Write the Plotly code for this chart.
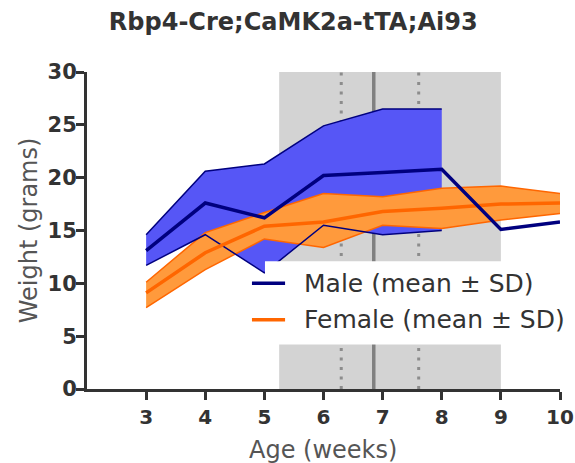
import plotly.graph_objects as go

weeks = [3, 4, 5, 6, 7, 8, 9, 10]
male_mean = [13.1, 17.6, 16.2, 20.2, 20.5, 20.8, 15.1, 15.8]
sd_weeks_male = [3, 4, 5, 6, 7, 8]
male_upper = [14.6, 20.6, 21.3, 24.9, 26.5, 26.5]
male_lower = [11.7, 14.6, 11.0, 15.5, 14.6, 15.0]
female_mean = [9.1, 12.9, 15.4, 15.8, 16.8, 17.1, 17.5, 17.6]
female_upper = [10.1, 14.8, 16.7, 18.5, 18.2, 19.0, 19.2, 18.5]
female_lower = [7.7, 11.3, 14.2, 13.4, 15.5, 15.2, 16.0, 16.6]
shade_range = [5.25, 9.0]
solid_line_x = 6.85
dotted_lines_x = [6.3, 7.61]
x_ticks = [3, 4, 5, 6, 7, 8, 9, 10]
y_ticks = [0, 5, 10, 15, 20, 25, 30]
legend_labels = ["Male (mean ± SD)", "Female (mean ± SD)"]

NAVY = "#00007f"
MFILL = "#5656f6"
ORANGE = "#ff6600"
FFILL = "#ff9a3c"
FONT = "DejaVu Sans"

fig = go.Figure()

fig.add_trace(go.Scatter(x=sd_weeks_male + sd_weeks_male[::-1], y=male_upper + male_lower[::-1],
                         fill="toself", fillcolor=MFILL, line=dict(width=0), mode="lines",
                         showlegend=False, hoverinfo="skip"))
fig.add_trace(go.Scatter(x=weeks + weeks[::-1], y=female_upper + female_lower[::-1],
                         fill="toself", fillcolor=FFILL, line=dict(width=0), mode="lines",
                         showlegend=False, hoverinfo="skip"))
fig.add_trace(go.Scatter(x=weeks, y=female_upper, mode="lines", line=dict(color=ORANGE, width=1.5),
                         showlegend=False, hoverinfo="skip"))
fig.add_trace(go.Scatter(x=weeks, y=female_lower, mode="lines", line=dict(color=ORANGE, width=1.5),
                         showlegend=False, hoverinfo="skip"))
fig.add_trace(go.Scatter(x=sd_weeks_male, y=male_upper, mode="lines", line=dict(color=NAVY, width=1.5),
                         showlegend=False, hoverinfo="skip"))
fig.add_trace(go.Scatter(x=sd_weeks_male, y=male_lower, mode="lines", line=dict(color=NAVY, width=1.5),
                         showlegend=False, hoverinfo="skip"))
fig.add_trace(go.Scatter(x=weeks, y=female_mean, mode="lines", line=dict(color=ORANGE, width=3.5),
                         name=legend_labels[1], showlegend=False))
fig.add_trace(go.Scatter(x=weeks, y=male_mean, mode="lines", line=dict(color=NAVY, width=3.5),
                         name=legend_labels[0], showlegend=False))

shapes = [dict(type="rect", xref="x", yref="y", x0=shade_range[0], x1=shade_range[1], y0=0, y1=30,
               fillcolor="#d3d3d3", line=dict(width=0), layer="below")]
for xv in dotted_lines_x:
    shapes.append(dict(type="line", xref="x", yref="y", x0=xv, x1=xv, y0=0, y1=30,
                       line=dict(color="#8c8c8c", width=3, dash="3px,6.5px"), layer="below"))
shapes.append(dict(type="line", xref="x", yref="y", x0=solid_line_x, x1=solid_line_x, y0=0, y1=30,
                   line=dict(color="#808080", width=3.5), layer="below"))

# legend box (white background) and entries, placed in data coordinates
shapes.append(dict(type="rect", xref="x", yref="y", x0=5.01, x1=9.6, y0=4.2, y1=12.1,
                   fillcolor="white", line=dict(width=0), layer="above"))
legend_y = [10.0, 6.55]
legend_colors = [NAVY, ORANGE]
annotations = []
for ly, lc, lt in zip(legend_y, legend_colors, legend_labels):
    shapes.append(dict(type="line", xref="x", yref="y", x0=4.79, x1=5.35, y0=ly, y1=ly,
                       line=dict(color=lc, width=3.5), layer="above"))
    annotations.append(dict(x=5.64, y=ly, xref="x", yref="y", text=lt, showarrow=False,
                            xanchor="left", yanchor="middle",
                            font=dict(size=25, color="#333333", family=FONT)))
# x-axis title
annotations.append(dict(x=0.498, y=-0.193, xref="paper", yref="paper", text="Age (weeks)", showarrow=False,
                        xanchor="center", yanchor="middle",
                        font=dict(size=24, color="#555555", family=FONT)))

fig.update_layout(
    width=575, height=463,
    margin=dict(l=87, r=15, t=72, b=74),
    paper_bgcolor="white", plot_bgcolor="white",
    font=dict(family=FONT, color="#333333"),
    title=dict(text="<b>Rbp4-Cre;CaMK2a-tTA;Ai93</b>", x=0.51, xanchor="center", y=0.953, yanchor="middle",
               font=dict(size=24, color="#333333", family=FONT)),
    shapes=shapes,
    annotations=annotations,
    showlegend=False,
    xaxis=dict(range=[2, 10], tickvals=x_ticks, ticktext=[str(v) for v in x_ticks], automargin=False,
               showgrid=False, zeroline=False, showline=True, linecolor="#333333", linewidth=3,
               ticks="outside", ticklen=8, tickwidth=3, tickcolor="#333333", ticklabeloverflow="allow",
               tickfont=dict(size=20, color="#333333", family=FONT, weight="bold")),
    yaxis=dict(range=[0, 30], tickvals=y_ticks, showgrid=False, zeroline=False, showline=True, automargin=False,
               linecolor="#333333", linewidth=3, ticks="outside", ticklen=8, tickwidth=3, tickcolor="#333333",
               ticklabelstandoff=-5,
               tickfont=dict(size=21, color="#333333", family=FONT, weight="bold"),
               title=dict(text="Weight (grams)", font=dict(size=24, color="#555555", family=FONT), standoff=4)),
)

fig.write_html("out.html", config={"displayModeBar": False},
               post_script="document.body.style.margin='0px';document.body.style.overflow='hidden';")
